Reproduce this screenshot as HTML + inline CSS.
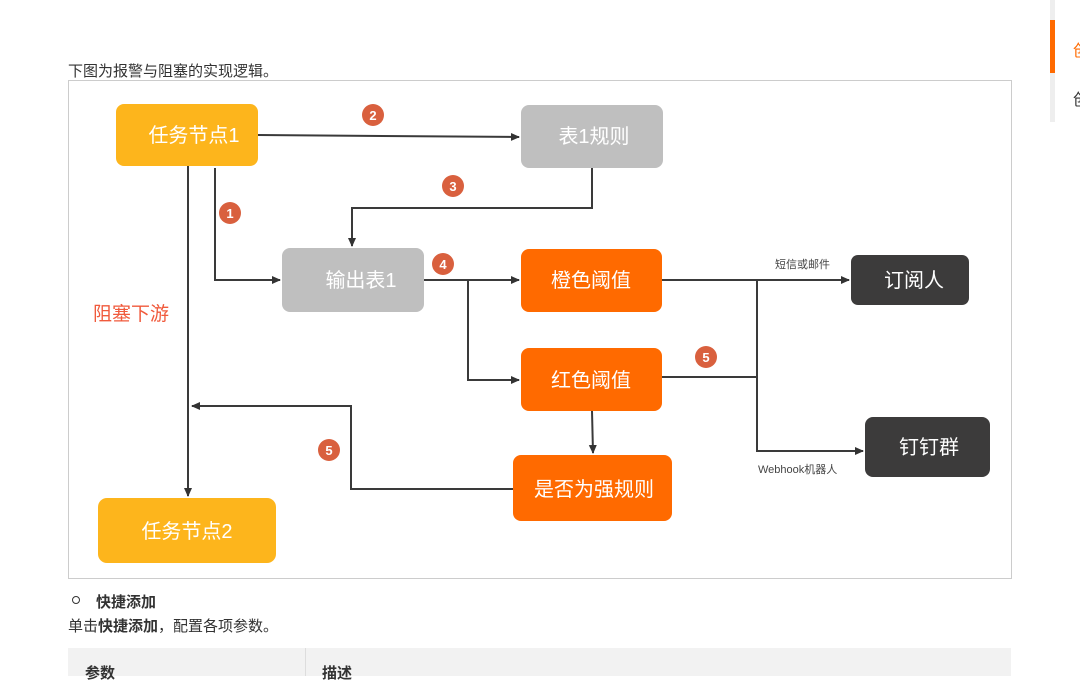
<!DOCTYPE html>
<html><head><meta charset="utf-8"><style>
html,body{margin:0;padding:0;background:#fff;width:1080px;height:676px;overflow:hidden;font-family:"Liberation Sans","Noto Sans CJK SC",sans-serif;}
.t{position:absolute;color:#333;font-size:15px;white-space:nowrap;}
</style></head><body>
<div class="t" style="left:68px;top:60px;">下图为报警与阻塞的实现逻辑。</div>
<div style="position:absolute;left:1050px;top:0;width:5px;height:122px;background:#eee"></div>
<div style="position:absolute;left:1050px;top:20px;width:5px;height:53px;background:#ff6a00"></div>
<div class="t" style="left:1073px;top:37px;color:#ff6a00;font-size:16px">创</div>
<div class="t" style="left:1073px;top:86px;font-size:16px">创</div>
<svg style="position:absolute;left:0;top:0" width="1080" height="676" font-family="Liberation Sans, Noto Sans CJK SC, sans-serif">
<defs><marker id="a" markerWidth="10" markerHeight="10" refX="8" refY="5" orient="auto" markerUnits="userSpaceOnUse"><path d="M0,1 L9,5 L0,9 z" fill="#333"/></marker></defs>
<rect x="68.5" y="80.5" width="943" height="498" fill="#fff" stroke="#ccc"/>
<g stroke="#3a3a3a" stroke-width="2" fill="none">
<path d="M258 135 L519 137" marker-end="url(#a)"/>
<path d="M188 166 L188 496" marker-end="url(#a)"/>
<path d="M215 168 L215 280 L280 280" marker-end="url(#a)"/>
<path d="M592 168 L592 208 L352 208 L352 246" marker-end="url(#a)"/>
<path d="M424 280 L519 280" marker-end="url(#a)"/>
<path d="M468 280 L468 380 L519 380" marker-end="url(#a)"/>
<path d="M662 280 L849 280" marker-end="url(#a)"/>
<path d="M662 377 L757 377"/>
<path d="M757 280 L757 451 L863 451" marker-end="url(#a)"/>
<path d="M592 411 L593 453" marker-end="url(#a)"/>
<path d="M513 489 L351 489 L351 406 L192 406" marker-end="url(#a)"/>
</g>
<g font-size="20" fill="#fff" text-anchor="middle">
<rect x="116" y="104" width="142" height="62" rx="8" fill="#fdb51c"/><text x="194" y="142">任务节点1</text>
<rect x="521" y="105" width="142" height="63" rx="8" fill="#bfbfbf"/><text x="594" y="143">表1规则</text>
<rect x="282" y="248" width="142" height="64" rx="8" fill="#bfbfbf"/><text x="361" y="287">输出表1</text>
<rect x="521" y="249" width="141" height="63" rx="8" fill="#ff6a00"/><text x="591" y="287">橙色阈值</text>
<rect x="851" y="255" width="118" height="50" rx="7" fill="#3c3b3b"/><text x="914" y="287">订阅人</text>
<rect x="521" y="348" width="141" height="63" rx="8" fill="#ff6a00"/><text x="591" y="387">红色阈值</text>
<rect x="865" y="417" width="125" height="60" rx="8" fill="#3c3b3b"/><text x="929" y="454">钉钉群</text>
<rect x="513" y="455" width="159" height="66" rx="8" fill="#ff6a00"/><text x="594" y="496">是否为强规则</text>
<rect x="98" y="498" width="178" height="65" rx="9" fill="#fdb51c"/><text x="187" y="538">任务节点2</text>
</g>
<g font-size="13" font-weight="bold" fill="#fff" text-anchor="middle">
<circle cx="373" cy="115" r="11" fill="#d9603e"/><text x="373" y="120">2</text>
<circle cx="453" cy="186" r="11" fill="#d9603e"/><text x="453" y="191">3</text>
<circle cx="230" cy="213" r="11" fill="#d9603e"/><text x="230" y="218">1</text>
<circle cx="443" cy="264" r="11" fill="#d9603e"/><text x="443" y="269">4</text>
<circle cx="706" cy="357" r="11" fill="#d9603e"/><text x="706" y="362">5</text>
<circle cx="329" cy="450" r="11" fill="#d9603e"/><text x="329" y="455">5</text>
</g>
<text x="775" y="268" font-size="11" fill="#444">短信或邮件</text>
<text x="758" y="473" font-size="11" fill="#444">Webhook机器人</text>
<text x="93" y="320" font-size="19" fill="#f05a3c">阻塞下游</text>
</svg>
<div style="position:absolute;left:72px;top:596px;width:6px;height:6px;border:1.5px solid #333;border-radius:50%"></div>
<div class="t" style="left:96px;top:591px;font-weight:bold">快捷添加</div>
<div class="t" style="left:68px;top:615px;">单击<b>快捷添加</b>，配置各项参数。</div>
<div style="position:absolute;left:68px;top:648px;width:943px;height:28px;background:#f2f2f2"></div>
<div style="position:absolute;left:305px;top:648px;width:1px;height:28px;background:#ddd"></div>
<div class="t" style="left:85px;top:662px;font-weight:bold">参数</div>
<div class="t" style="left:322px;top:662px;font-weight:bold">描述</div>
</body></html>
